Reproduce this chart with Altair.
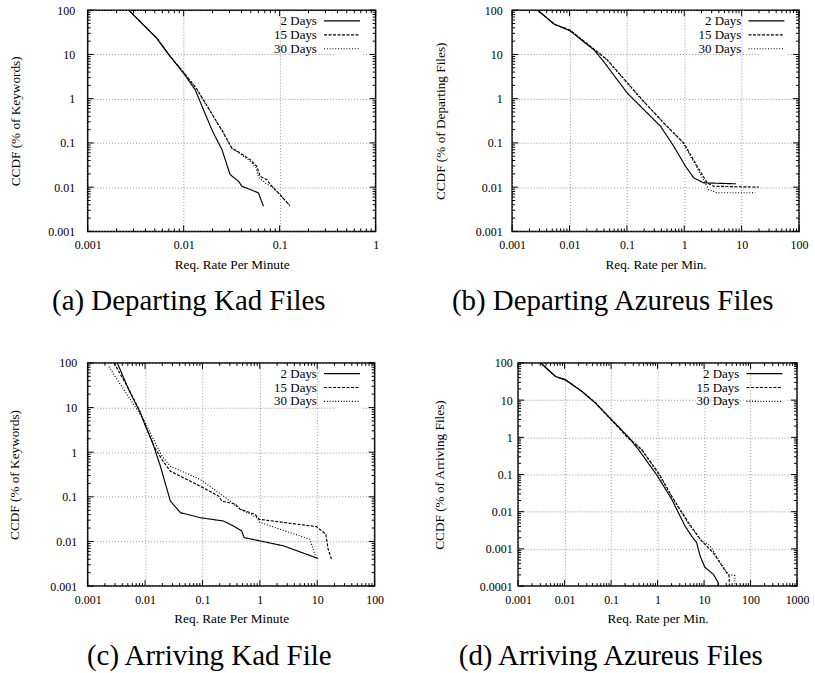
import altair as alt
import pandas as pd

FONT = "Liberation Serif"
SERIES = ["2 Days", "15 Days", "30 Days"]
DASHES = [[1, 0], [3, 1.5], [1, 1.8]]

# ---------------- (a) Departing Kad Files ----------------
a2_x = [0.00268, 0.00528, 0.00698, 0.01, 0.0132, 0.0161, 0.0197, 0.0213, 0.0251, 0.0271, 0.0305, 0.0373, 0.0404, 0.0493, 0.0601, 0.0678]
a2_y = [100, 22.9, 10, 3.75, 1.58, 0.56, 0.198, 0.14, 0.0703, 0.0419, 0.0192, 0.0136, 0.0105, 0.00883, 0.00745, 0.0037]
a15_x = [0.00268, 0.00528, 0.00698, 0.01, 0.0135, 0.0161, 0.0205, 0.0261, 0.0318, 0.0388, 0.0493, 0.0578, 0.0626, 0.0735, 0.0828, 0.097, 0.128]
a15_y = [100, 22.9, 10, 3.9, 1.75, 0.94, 0.395, 0.167, 0.0767, 0.0592, 0.0419, 0.0296, 0.0176, 0.0148, 0.0105, 0.00745, 0.0038]
a30_x = [0.00268, 0.00528, 0.00698, 0.01, 0.0134, 0.0159, 0.0203, 0.0258, 0.0312, 0.038, 0.0485, 0.0565, 0.0605, 0.071, 0.085, 0.097, 0.128]
a30_y = [100, 22.9, 10, 3.9, 1.75, 0.94, 0.40, 0.17, 0.078, 0.058, 0.04, 0.028, 0.0165, 0.0125, 0.0098, 0.0074, 0.0038]

# ---------------- (b) Departing Azureus Files ----------------
b2_x = [0.00279, 0.00542, 0.0102, 0.0268, 0.0376, 0.102, 0.199, 0.387, 0.658, 1.05, 1.46, 2.18, 7.96]
b2_y = [100, 48.4, 34.2, 12.6, 7.48, 1.33, 0.56, 0.236, 0.0834, 0.0296, 0.0162, 0.0125, 0.0119]
b15_x = [0.00279, 0.00542, 0.0102, 0.035, 0.0458, 0.186, 0.443, 0.985, 1.68, 2.5, 3.26, 19.7]
b15_y = [100, 48.4, 35.5, 10, 7.5, 0.94, 0.28, 0.099, 0.0296, 0.0125, 0.0105, 0.01]
b30_x = [0.00279, 0.00542, 0.0102, 0.034, 0.045, 0.18, 0.43, 0.95, 1.6, 2.66, 3.72, 17.2]
b30_y = [100, 48.4, 35, 10, 7.5, 0.95, 0.29, 0.1, 0.03, 0.0088, 0.00745, 0.0075]

# ---------------- (c) Arriving Kad File ----------------
c2_x = [0.00328, 0.00521, 0.00832, 0.0102, 0.0133, 0.0185, 0.0276, 0.0412, 0.0916, 0.232, 0.348, 0.485, 0.532, 1.0, 2.56, 10.4]
c2_y = [100, 24.9, 7.5, 3.78, 1.75, 0.485, 0.0802, 0.0442, 0.0341, 0.0287, 0.0222, 0.0171, 0.0122, 0.0103, 0.008, 0.00415]
c15_x = [0.00287, 0.00521, 0.0083, 0.0102, 0.0142, 0.0197, 0.0276, 0.08, 0.191, 0.217, 0.371, 0.453, 0.826, 0.98, 9.7, 14.1, 15.5, 17.7]
c15_y = [100, 26, 7.8, 3.9, 1.37, 0.684, 0.375, 0.189, 0.104, 0.080, 0.069, 0.0524, 0.0405, 0.0313, 0.0215, 0.0145, 0.0067, 0.004]
c30_x = [0.00234, 0.00427, 0.0095, 0.0197, 0.0276, 0.0916, 0.232, 0.424, 0.884, 0.98, 2.24, 7.45, 9.7]
c30_y = [82.6, 25, 5.3, 0.81, 0.484, 0.244, 0.104, 0.0569, 0.034, 0.0272, 0.0188, 0.0112, 0.004]

# ---------------- (d) Arriving Azureus Files ----------------
d2_x = [0.00306, 0.0064, 0.0105, 0.0238, 0.0461, 0.238, 0.39, 1.0, 2.02, 3.9, 5.4, 6.9, 8.2, 10.4, 15.7, 20, 20.5]
d2_y = [100, 43, 35, 17, 8.3, 1.0, 0.467, 0.09, 0.0214, 0.0041, 0.0022, 0.00148, 0.00065, 0.00032, 0.00021, 0.000126, 0.0001]
d15_x = [0.00306, 0.0064, 0.0105, 0.0238, 0.0461, 0.225, 0.46, 1.1, 2.02, 4.6, 8.85, 15.7, 30.4, 34.5, 35]
d15_y = [100, 43, 35, 17, 8.5, 1.0, 0.467, 0.1, 0.026, 0.0051, 0.00163, 0.00079, 0.00023, 0.00019, 0.0001]
d30_x = [0.00306, 0.0064, 0.0105, 0.0238, 0.0461, 0.24, 0.45, 1.05, 2.0, 4.5, 8.5, 13.4, 20.1, 33, 45.8, 46]
d30_y = [100, 43, 35, 17, 8.3, 1.0, 0.46, 0.1, 0.025, 0.005, 0.0017, 0.00123, 0.00053, 0.00021, 0.00019, 0.0001]


def frame(xs_list, ys_list):
    rows = []
    for name, xs, ys in zip(SERIES, xs_list, ys_list):
        for i, (x, y) in enumerate(zip(xs, ys)):
            rows.append({"series": name, "x": x, "y": y, "i": i})
    return pd.DataFrame(rows)


def decades(lo, hi):
    return [float(f"1e{e}") for e in range(lo, hi + 1)]


def minors(lo, hi):
    return [float(f"{m}e{e}") for e in range(lo, hi) for m in range(2, 10)]


def panel(df, xexp, yexp, w, h, xtitle, ytitle, caption, cap_dx, leg_x,
          ylabpad, ytitpad):
    xs = alt.Scale(type="log", domain=[float(f"1e{xexp[0]}"), float(f"1e{xexp[1]}")], nice=False)
    ys = alt.Scale(type="log", domain=[float(f"1e{yexp[0]}"), float(f"1e{yexp[1]}")], nice=False)
    common = dict(labelFont=FONT, labelFontSize=12, labelColor="black",
                  titleFont=FONT, titleFontSize=13.3, titleFontWeight="normal",
                  titleColor="black", ticks=False, domain=False, grid=True,
                  gridColor="#8a8a8a", gridDash=[1, 2], gridWidth=0.9,
                  format="~g", labelFlush=False, labelOverlap=False)
    xaxis = alt.Axis(values=decades(*xexp), title=xtitle, labelPadding=8,
                     titlePadding=7, **common)
    yaxis = alt.Axis(values=decades(*yexp), title=ytitle, labelPadding=ylabpad,
                     titlePadding=ytitpad, **common)
    leg = alt.Legend(orient="none", legendX=leg_x, legendY=4.2, title=None,
                     symbolType="M-3.6,0H3.6", symbolSize=100,
                     symbolStrokeWidth=1.2, symbolStrokeColor="black",
                     symbolFillColor="transparent",
                     labelAlign="right", labelOffset={"expr": "-31.7"}, labelFont=FONT,
                     labelFontSize=13, labelColor="black", labelLimit=0,
                     rowPadding=0, padding=0, fillColor="white")
    line = alt.Chart(df).mark_line(color="black", strokeWidth=1.15, clip=True).encode(
        x=alt.X("x:Q", scale=xs, axis=xaxis, title=xtitle),
        y=alt.Y("y:Q", scale=ys, axis=yaxis, title=ytitle),
        strokeDash=alt.StrokeDash("series:N", scale=alt.Scale(domain=SERIES, range=DASHES),
                                  legend=leg),
        order="i:Q",
    )
    layers = [line]
    for vals, L in ((decades(*xexp), 6), (minors(*xexp), 3)):
        base = alt.Chart(pd.DataFrame({"v": vals})).mark_rule(color="black", strokeWidth=1)
        layers.append(base.encode(x=alt.X("v:Q", scale=xs, axis=xaxis, title=xtitle),
                                  y=alt.value(h), y2=alt.value(h - L)))
        layers.append(base.encode(x=alt.X("v:Q", scale=xs, axis=xaxis, title=xtitle),
                                  y=alt.value(0), y2=alt.value(L)))
    for vals, L in ((decades(*yexp), 6), (minors(*yexp), 3)):
        base = alt.Chart(pd.DataFrame({"v": vals})).mark_rule(color="black", strokeWidth=1)
        layers.append(base.encode(y=alt.Y("v:Q", scale=ys, axis=yaxis, title=ytitle),
                                  x=alt.value(0), x2=alt.value(L)))
        layers.append(base.encode(y=alt.Y("v:Q", scale=ys, axis=yaxis, title=ytitle),
                                  x=alt.value(w), x2=alt.value(w - L)))
    return alt.layer(*layers).properties(
        width=w, height=h,
        title=alt.TitleParams(text=caption, orient="bottom", font=FONT, fontSize=29,
                              fontWeight="normal", color="black", anchor="middle",
                              dx=cap_dx, offset=17),
    )


pa = panel(frame([a2_x, a15_x, a30_x], [a2_y, a15_y, a30_y]), (-3, 0), (-3, 2), 289, 222,
           "Req. Rate Per Minute", "CCDF (% of Keywords)", "(a) Departing Kad Files", -43, 248.75, 13, 25)
pb = panel(frame([b2_x, b15_x, b30_x], [b2_y, b15_y, b30_y]), (-3, 2), (-3, 2), 288, 222,
           "Req. Rate per Min.", "CCDF (% of Departing Files)", "(b) Departing Azureus Files", -43, 248.75, 10, 28)
pc = panel(frame([c2_x, c15_x, c30_x], [c2_y, c15_y, c30_y]), (-3, 2), (-3, 2), 288, 224,
           "Req. Rate Per Minute", "CCDF (% of Keywords)", "(c) Arriving Kad File", -22, 248.75, 11, 28)
pd_ = panel(frame([d2_x, d15_x, d30_x], [d2_y, d15_y, d30_y]), (-3, 3), (-4, 2), 280, 224,
            "Req. Rate per Min.", "CCDF (% of Arriving Files)", "(d) Arriving Azureus Files", -47, 240.75, 6, 33)

row1 = alt.hconcat(pa, pb, spacing=53).resolve_scale(strokeDash="independent").resolve_legend(strokeDash="independent")
row2 = alt.hconcat(pc, pd_, spacing=47).resolve_scale(strokeDash="independent").resolve_legend(strokeDash="independent")
chart = alt.vconcat(row1, row2, spacing=38).resolve_scale(strokeDash="independent").resolve_legend(
    strokeDash="independent"
).properties(
    padding={"left": 7, "top": 2, "right": 5, "bottom": 5}
).configure(background="white").configure_view(stroke="black", strokeWidth=1.5)

chart.save("out.html", embed_options={"renderer": "svg", "actions": False})
